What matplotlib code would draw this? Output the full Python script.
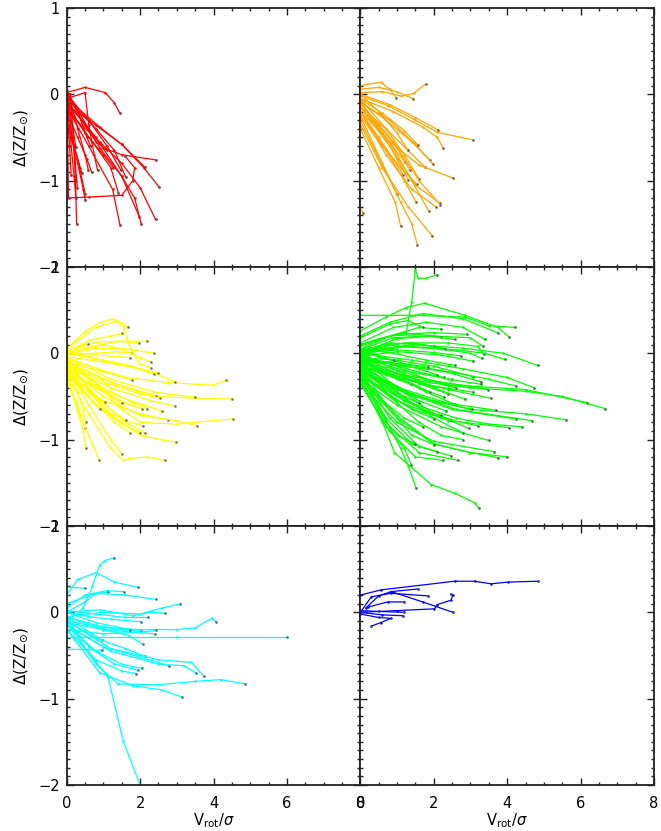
import matplotlib.pyplot as plt
from matplotlib.ticker import MultipleLocator

# tracks: each one is a list of (Vrot/sigma, dZ) points
red_tracks = [
    [(0.0, 0.02), (0.5, 0.08), (1.05, 0.02), (1.3, -0.1), (1.45, -0.22)],
    [(0.0, -0.1), (0.5, -0.35), (1.0, -0.62), (1.5, -0.7), (2.42, -0.76)],
    [(0.0, -0.05), (0.9, -0.38), (1.5, -0.58), (2.1, -0.85), (2.51, -1.07)],
    [(0.0, -0.12), (0.8, -0.36), (1.5, -0.58), (2.12, -0.84)],
    [(0.0, -0.2), (0.9, -0.55), (1.5, -0.8), (2.0, -1.08), (2.42, -1.45)],
    [(0.0, -0.08), (0.8, -0.5), (1.5, -0.95), (1.98, -1.42)],
    [(0.05, 0.0), (0.9, -0.62), (1.5, -0.95), (1.85, -1.2), (2.03, -1.5)],
    [(0.0, -0.15), (0.6, -0.6), (1.25, -1.1), (1.45, -1.51)],
    [(0.1, 0.0), (0.18, -0.5), (0.24, -1.0), (0.27, -1.5)],
    [(0.0, -0.05), (0.03, -0.6), (0.05, -1.2), (0.6, -1.19), (1.5, -1.17),
     (1.8, -1.0), (1.85, -0.85), (1.6, -0.72)],
    [(0.0, -0.1), (0.5, -0.45), (1.0, -0.7), (1.27, -0.85)],
    [(0.0, -0.05), (0.5, 0.02), (0.6, -0.35), (0.75, -0.7), (0.84, -0.88)],
    [(0.0, -0.2), (0.3, -0.5), (0.55, -0.75), (0.68, -0.9)],
    [(0.05, 0.0), (0.3, -0.4), (0.5, -0.7), (0.59, -0.88)],
    [(0.0, -0.3), (0.2, -0.6), (0.41, -0.91)],
    [(0.0, -0.1), (0.2, -0.6), (0.29, -1.09)],
    [(0.0, -0.2), (0.08, -0.6), (0.12, -0.93)],
    [(0.0, 0.0), (0.6, -0.3), (1.1, -0.6), (1.48, -0.88)],
    [(0.0, -0.05), (0.8, -0.4), (1.3, -0.65), (1.61, -0.96)],
    [(0.0, -0.15), (0.7, -0.55), (1.2, -0.85), (1.41, -1.14)],
    [(0.0, 0.0), (0.15, -0.35), (0.25, -0.61)],
    [(0.0, -0.3), (0.3, -0.8), (0.45, -1.1), (0.5, -1.22)],
    [(0.0, 0.05), (0.4, -0.3), (0.8, -0.55), (1.1, -0.65)],
    [(0.0, -0.1), (0.15, -0.5), (0.35, -0.85), (0.5, -1.15)],
    [(0.0, -0.02), (0.3, -0.2), (0.55, -0.5), (0.65, -0.6)],
    [(0.0, -0.05), (0.1, -0.5), (0.2, -0.95), (0.25, -1.2)],
]

orange_tracks = [
    [(0.0, 0.1), (0.55, 0.14), (0.8, 0.06), (0.98, -0.04)],
    [(0.0, 0.06), (0.5, 0.08), (1.0, 0.03), (1.43, -0.05)],
    [(0.0, 0.02), (0.6, 0.03), (1.1, -0.02), (1.45, 0.01), (1.78, 0.12)],
    [(0.0, -0.02), (0.75, -0.13), (1.5, -0.3), (2.1, -0.44), (3.08, -0.53)],
    [(0.0, 0.0), (0.8, -0.12), (1.5, -0.27), (2.11, -0.41)],
    [(0.0, -0.05), (0.9, -0.2), (1.7, -0.38), (2.1, -0.5), (2.25, -0.62)],
    [(0.0, -0.08), (0.7, -0.3), (1.4, -0.55), (1.89, -0.76)],
    [(0.0, -0.1), (0.8, -0.3), (1.5, -0.58), (1.98, -0.81)],
    [(0.0, -0.15), (0.7, -0.4), (1.3, -0.65), (1.75, -0.84)],
    [(0.0, -0.2), (0.8, -0.55), (1.6, -0.82), (2.52, -0.97)],
    [(0.0, -0.05), (0.6, -0.22), (1.2, -0.42), (1.57, -0.59)],
    [(0.0, -0.15), (0.5, -0.4), (0.9, -0.62), (1.21, -0.78)],
    [(0.0, -0.2), (0.5, -0.5), (0.9, -0.75), (1.16, -0.93)],
    [(0.0, -0.1), (0.6, -0.45), (1.0, -0.75), (1.31, -0.99)],
    [(0.0, -0.05), (0.7, -0.4), (1.2, -0.7), (1.6, -0.98)],
    [(0.0, -0.25), (0.6, -0.6), (1.1, -0.85), (1.54, -1.04)],
    [(0.0, -0.3), (0.4, -0.65), (0.75, -0.95), (1.0, -1.16)],
    [(0.0, -0.2), (0.7, -0.65), (1.2, -1.0), (1.52, -1.25)],
    [(0.0, -0.1), (0.8, -0.55), (1.4, -1.0), (1.86, -1.35)],
    [(0.0, -0.15), (0.8, -0.6), (1.5, -1.05), (2.16, -1.26)],
    [(0.0, -0.1), (0.9, -0.55), (1.6, -1.0), (2.18, -1.28)],
    [(0.0, -0.2), (0.7, -0.7), (1.4, -1.1), (2.05, -1.3)],
    [(0.0, -0.4), (0.5, -0.85), (0.95, -1.25), (1.1, -1.53)],
    [(0.0, -0.35), (0.6, -0.85), (1.3, -1.3), (1.96, -1.64)],
    [(0.0, -0.25), (0.6, -0.8), (1.1, -1.25), (1.4, -1.5), (1.55, -1.74)],
    [(0.0, -1.33), (0.07, -1.37)],
    [(0.0, 0.0), (0.5, -0.2), (1.0, -0.45), (1.3, -0.65)],
    [(0.0, -0.1), (0.5, -0.35), (1.0, -0.62), (1.35, -0.88)],
]

yellow_tracks = [
    [(0.0, 0.05), (0.5, 0.25), (0.91, 0.36), (1.27, 0.40), (1.5, 0.35), (1.68, 0.30)],
    [(0.0, 0.0), (0.6, 0.15), (1.2, 0.2), (1.52, 0.23)],
    [(0.0, 0.02), (0.8, 0.13), (1.5, 0.14), (2.2, 0.14)],
    [(0.0, 0.0), (0.7, 0.08), (1.4, 0.14), (1.97, 0.12)],
    [(0.0, 0.02), (0.3, 0.08), (0.59, 0.11)],
    [(0.0, -0.02), (0.8, 0.06), (1.6, 0.05), (2.39, 0.0)],
    [(0.0, -0.01), (0.8, 0.0), (1.4, 0.02), (1.77, 0.0)],
    [(0.0, -0.02), (0.8, -0.02), (1.72, -0.05)],
    [(0.0, -0.05), (1.0, -0.2), (1.63, -0.28), (2.8, -0.34), (3.99, -0.37), (4.33, -0.31)],
    [(0.0, 0.0), (1.2, -0.1), (2.2, -0.2), (2.96, -0.33)],
    [(0.0, 0.05), (0.8, 0.3), (1.35, 0.37), (1.55, 0.3), (1.75, 0.05), (2.0, -0.12), (2.31, -0.17)],
    [(0.0, 0.02), (1.0, -0.08), (1.8, -0.15), (2.38, -0.24)],
    [(0.0, -0.04), (1.0, -0.1), (2.0, -0.18), (2.49, -0.23)],
    [(0.0, -0.1), (0.9, -0.2), (1.77, -0.31)],
    [(0.0, -0.1), (1.3, -0.35), (2.5, -0.5), (3.5, -0.52), (4.49, -0.53)],
    [(0.0, -0.05), (1.2, -0.3), (2.4, -0.45), (3.49, -0.51)],
    [(0.0, -0.1), (1.0, -0.3), (2.0, -0.45), (2.43, -0.5)],
    [(0.0, -0.12), (1.1, -0.35), (2.0, -0.47), (2.54, -0.52)],
    [(0.0, -0.15), (1.2, -0.4), (2.3, -0.55), (2.95, -0.61)],
    [(0.0, -0.2), (1.1, -0.45), (2.1, -0.6), (2.6, -0.67)],
    [(0.0, -0.2), (0.8, -0.4), (1.6, -0.58), (2.04, -0.64)],
    [(0.0, -0.12), (1.0, -0.4), (1.8, -0.57), (2.2, -0.64)],
    [(0.0, -0.25), (1.0, -0.55), (2.0, -0.7), (2.75, -0.77)],
    [(0.0, -0.05), (0.8, -0.35), (1.5, -0.65), (2.0, -0.8), (3.0, -0.82), (4.52, -0.76)],
    [(0.0, -0.15), (1.0, -0.5), (2.0, -0.72), (3.0, -0.78), (3.56, -0.84)],
    [(0.0, -0.2), (0.9, -0.55), (1.6, -0.78), (2.07, -0.84)],
    [(0.0, -0.1), (0.8, -0.5), (1.6, -0.8), (2.13, -0.92)],
    [(0.0, -0.25), (0.8, -0.6), (1.5, -0.82), (2.01, -0.92)],
    [(0.0, -0.2), (0.7, -0.55), (1.3, -0.8), (1.72, -0.92)],
    [(0.0, -0.15), (0.6, -0.45), (1.2, -0.7), (1.61, -0.77)],
    [(0.0, -0.1), (0.5, -0.35), (0.8, -0.5), (1.04, -0.56)],
    [(0.0, -0.05), (0.7, -0.35), (1.2, -0.5), (1.5, -0.58)],
    [(0.0, -0.2), (0.4, -0.4), (0.7, -0.55), (0.91, -0.64)],
    [(0.0, -0.15), (0.3, -0.45), (0.45, -0.65), (0.52, -0.79)],
    [(0.0, -0.3), (0.25, -0.55), (0.4, -0.72), (0.5, -0.87)],
    [(0.0, -0.2), (0.25, -0.6), (0.45, -0.9), (0.53, -1.1)],
    [(0.0, -0.3), (0.35, -0.7), (0.7, -1.05), (0.89, -1.24)],
    [(0.0, -0.15), (0.6, -0.6), (1.2, -1.0), (1.52, -1.17)],
    [(0.0, -0.25), (0.6, -0.7), (1.2, -1.1), (1.54, -1.24), (1.7, -1.22), (2.2, -1.2), (2.67, -1.24)],
    [(0.0, -0.05), (1.0, -0.65), (2.0, -0.95), (2.6, -1.0), (2.97, -1.03)],
    [(0.0, 0.0), (1.0, 0.1), (1.5, 0.05), (2.0, -0.05), (2.3, -0.1)],
]

green_tracks = [
    [(0.0, 0.1), (0.6, 0.18), (1.25, 0.24), (1.4, 0.6), (1.5, 0.97), (1.57, 0.87), (1.8, 0.87), (2.1, 0.91)],
    [(0.0, 0.44), (1.5, 0.44), (2.84, 0.42), (3.5, 0.32), (4.2, 0.30)],
    [(0.0, 0.26), (0.7, 0.42), (1.25, 0.53), (1.75, 0.58), (2.85, 0.44), (3.75, 0.3), (4.05, 0.19)],
    [(0.0, 0.2), (0.8, 0.36), (1.7, 0.46), (2.8, 0.4), (3.74, 0.24)],
    [(0.0, 0.12), (0.9, 0.3), (1.8, 0.36), (2.8, 0.3), (3.4, 0.16)],
    [(0.0, 0.05), (0.8, 0.2), (1.6, 0.3), (2.2, 0.28)],
    [(0.0, 0.18), (0.8, 0.34), (1.3, 0.38), (1.7, 0.30)],
    [(0.0, 0.0), (1.0, 0.17), (2.0, 0.2), (3.0, 0.18), (3.34, 0.08)],
    [(0.0, 0.02), (1.2, 0.12), (2.4, 0.12), (3.2, 0.08), (3.36, -0.01)],
    [(0.0, -0.02), (1.0, 0.08), (2.2, 0.05), (3.0, 0.0), (3.31, -0.06)],
    [(0.0, 0.0), (1.3, 0.08), (2.6, 0.04), (3.4, 0.0), (3.93, -0.07)],
    [(0.0, 0.02), (1.4, 0.1), (2.8, 0.06), (3.9, 0.0), (4.83, -0.14)],
    [(0.0, -0.04), (1.0, 0.02), (2.2, -0.02), (3.06, -0.09)],
    [(0.0, 0.0), (1.0, 0.04), (2.0, 0.01), (2.73, -0.03)],
    [(0.0, -0.1), (1.1, -0.12), (2.2, -0.2), (3.29, -0.33)],
    [(0.0, -0.05), (1.0, -0.08), (2.0, -0.15), (3.07, -0.27)],
    [(0.0, -0.05), (1.2, -0.15), (2.5, -0.22), (3.5, -0.3), (4.25, -0.38)],
    [(0.0, 0.0), (1.4, -0.08), (2.8, -0.18), (4.0, -0.28), (4.74, -0.40)],
    [(0.0, -0.12), (1.2, -0.25), (2.4, -0.35), (3.47, -0.42)],
    [(0.0, -0.15), (1.2, -0.3), (2.4, -0.42), (3.56, -0.52)],
    [(0.0, -0.14), (1.5, -0.32), (3.0, -0.4), (4.5, -0.44), (5.5, -0.5), (6.67, -0.64)],
    [(0.0, -0.1), (1.5, -0.3), (3.0, -0.38), (4.5, -0.42), (6.17, -0.57)],
    [(0.0, -0.2), (1.5, -0.5), (3.0, -0.65), (4.5, -0.7), (5.6, -0.77)],
    [(0.0, -0.15), (1.3, -0.45), (2.6, -0.65), (4.68, -0.78)],
    [(0.0, -0.18), (1.2, -0.45), (2.5, -0.65), (4.24, -0.76)],
    [(0.0, -0.25), (1.2, -0.55), (2.6, -0.75), (3.5, -0.82), (4.41, -0.85)],
    [(0.0, -0.2), (1.2, -0.55), (2.4, -0.78), (4.04, -0.86)],
    [(0.0, -0.2), (1.0, -0.42), (2.0, -0.55), (3.05, -0.65)],
    [(0.0, -0.3), (1.0, -0.6), (2.2, -0.85), (3.5, -1.01)],
    [(0.0, -0.3), (1.0, -0.75), (2.0, -1.05), (3.0, -1.15), (4.0, -1.2)],
    [(0.0, -0.25), (1.0, -0.72), (2.0, -1.05), (3.0, -1.15), (3.76, -1.21)],
    [(0.0, -0.35), (1.0, -0.8), (2.0, -1.02), (3.65, -1.14)],
    [(0.0, -0.3), (0.8, -0.85), (1.6, -1.15), (2.66, -1.24)],
    [(0.0, -0.2), (0.8, -0.75), (1.6, -1.08), (2.48, -1.19)],
    [(0.0, -0.35), (0.8, -0.9), (1.5, -1.2), (2.25, -1.24)],
    [(0.0, -0.25), (0.7, -0.75), (1.4, -1.05), (2.1, -1.14)],
    [(0.0, -0.15), (0.7, -0.6), (1.4, -0.95), (2.02, -1.06)],
    [(0.0, -0.3), (0.6, -0.8), (1.2, -1.1), (1.39, -1.29)],
    [(0.0, -0.2), (0.6, -0.7), (1.1, -1.1), (1.3, -1.3), (1.52, -1.56)],
    [(0.0, -0.14), (0.93, -1.15), (1.93, -1.52), (2.57, -1.62), (3.11, -1.73), (3.22, -1.79)],
    [(0.0, -0.1), (1.0, -0.45), (2.0, -0.75), (2.79, -0.92)],
    [(0.0, -0.05), (1.0, -0.4), (2.0, -0.7), (2.95, -0.87)],
    [(0.0, -0.08), (0.8, -0.25), (1.6, -0.4), (2.29, -0.51)],
    [(0.0, -0.02), (0.8, -0.2), (1.6, -0.35), (2.38, -0.47)],
    [(0.0, -0.12), (0.8, -0.35), (1.6, -0.55), (2.34, -0.67)],
    [(0.0, -0.22), (0.7, -0.45), (1.4, -0.65), (2.02, -0.76)],
    [(0.0, -0.15), (0.9, -0.45), (1.7, -0.65), (2.48, -0.77)],
    [(0.0, -0.05), (0.9, -0.25), (1.8, -0.45), (2.57, -0.59)],
    [(0.0, 0.0), (1.0, -0.2), (2.0, -0.4), (2.84, -0.53)],
    [(0.0, 0.08), (0.8, 0.2), (1.6, 0.22), (2.19, 0.19)],
    [(0.0, 0.04), (0.9, 0.18), (1.8, 0.2), (2.57, 0.16)],
    [(0.0, -0.05), (0.5, -0.2), (1.0, -0.3), (1.39, -0.36)],
    [(0.0, 0.05), (0.6, -0.05), (1.2, -0.12), (1.84, -0.16)],
    [(0.0, 0.02), (0.5, -0.04), (0.93, -0.08)],
    [(0.0, -0.02), (0.8, -0.12), (1.6, -0.22), (2.28, -0.28)],
    [(0.0, 0.05), (0.9, 0.0), (1.8, -0.08), (2.57, -0.14)],
    [(0.0, -0.1), (1.0, -0.28), (2.0, -0.38), (3.07, -0.45)],
    [(0.0, -0.2), (1.2, -0.42), (2.4, -0.58), (3.7, -0.66)],
    [(0.0, -0.25), (1.0, -0.55), (2.2, -0.75), (3.2, -0.84)],
    [(0.0, -0.08), (0.8, -0.5), (1.6, -0.8), (2.2, -0.95), (2.8, -1.0)],
    [(0.0, 0.1), (1.0, 0.22), (2.0, 0.24), (2.9, 0.22)],
    [(0.0, -0.02), (1.0, -0.15), (1.8, -0.3), (2.4, -0.38), (2.5, -0.3)],
    [(0.0, -0.3), (0.6, -0.55), (1.2, -0.75), (1.7, -0.85)],
    [(0.0, -0.35), (0.5, -0.7), (1.0, -0.95), (1.5, -1.05)],
    [(0.0, 0.0), (0.7, 0.1), (1.4, 0.12), (2.0, 0.08)],
    [(0.0, -0.08), (0.8, -0.1), (1.6, -0.18), (2.1, -0.25)],
    [(0.0, -0.15), (0.7, -0.25), (1.4, -0.35), (1.9, -0.45)],
    [(0.0, -0.1), (0.9, -0.18), (1.8, -0.3), (2.6, -0.4)],
    [(0.0, -0.2), (0.6, -0.35), (1.2, -0.5), (1.6, -0.58)],
    [(0.0, 0.03), (0.8, 0.12), (1.7, 0.1), (2.3, 0.05)],
    [(0.0, -0.25), (0.8, -0.5), (1.6, -0.68), (2.2, -0.72)],
    [(0.0, -0.05), (1.2, -0.2), (2.4, -0.3), (3.3, -0.36)],
]

cyan_tracks = [
    [(0.0, -0.1), (0.45, 0.05), (0.7, 0.3), (0.9, 0.55), (1.05, 0.6), (1.29, 0.63)],
    [(0.0, 0.2), (0.3, 0.38), (0.8, 0.46), (1.3, 0.35), (1.93, 0.29)],
    [(0.0, 0.29), (0.5, 0.28)],
    [(0.0, 0.05), (0.5, 0.2), (1.1, 0.25), (1.56, 0.24)],
    [(0.0, 0.0), (0.5, 0.12), (0.8, 0.22), (1.12, 0.23)],
    [(0.0, 0.1), (0.8, 0.22), (1.6, 0.2), (2.42, 0.15)],
    [(0.0, -0.05), (1.0, 0.0), (2.0, -0.02), (2.6, 0.05), (3.1, 0.10)],
    [(0.0, 0.0), (0.9, 0.03), (1.8, -0.04), (2.3, 0.0), (2.68, -0.01)],
    [(0.0, 0.02), (0.8, -0.02), (1.6, -0.06), (2.22, -0.06)],
    [(0.0, 0.0), (0.6, -0.05), (1.2, -0.08), (2.02, -0.11)],
    [(0.0, -0.1), (1.0, -0.18), (2.0, -0.2), (3.0, -0.2), (3.5, -0.18), (3.95, -0.07), (4.08, -0.11)],
    [(0.0, -0.05), (0.8, -0.15), (1.5, -0.2), (2.02, -0.22)],
    [(0.0, -0.12), (1.0, -0.2), (2.41, -0.25)],
    [(0.0, 0.0), (0.8, -0.12), (1.72, -0.2)],
    [(0.0, -0.29), (3.0, -0.29), (5.99, -0.29)],
    [(0.0, -0.05), (1.0, -0.2), (1.7, -0.27), (2.07, -0.37)],
    [(0.0, -0.05), (0.5, -0.2), (0.95, -0.32)],
    [(0.0, -0.43), (0.5, -0.43), (0.95, -0.44)],
    [(0.0, -0.1), (0.8, -0.3), (1.6, -0.42), (2.13, -0.51)],
    [(0.0, -0.15), (1.0, -0.4), (2.0, -0.52), (2.8, -0.62)],
    [(0.0, -0.15), (1.2, -0.45), (2.5, -0.6), (3.2, -0.62), (3.51, -0.70)],
    [(0.0, -0.1), (1.2, -0.42), (2.5, -0.55), (3.4, -0.58), (3.74, -0.74)],
    [(0.0, -0.12), (0.8, -0.6), (1.4, -0.83), (2.5, -0.84), (3.5, -0.8), (4.2, -0.78), (4.87, -0.83)],
    [(0.0, -0.2), (0.9, -0.7), (1.8, -0.85), (2.6, -0.9), (3.13, -0.98)],
    [(0.0, -0.15), (0.8, -0.45), (1.5, -0.6), (2.04, -0.65)],
    [(0.0, -0.1), (0.6, -0.4), (1.3, -0.6), (1.93, -0.67)],
    [(0.0, -0.2), (0.8, -0.55), (1.5, -0.68), (1.89, -0.71)],
    [(0.0, -0.05), (0.54, -0.44), (1.13, -0.75), (1.54, -1.49), (2.0, -2.0)],
    [(0.0, -0.2), (1.0, -0.25), (2.0, -0.23), (2.42, -0.21)],
]

blue_tracks = [
    [(0.0, 0.2), (0.57, 0.26), (2.57, 0.36), (3.11, 0.36), (3.56, 0.33), (4.02, 0.35), (4.85, 0.36)],
    [(0.15, 0.05), (0.5, 0.19), (0.84, 0.24), (1.57, 0.27)],
    [(0.84, 0.24), (1.7, 0.12), (2.52, 0.0)],
    [(0.0, 0.0), (1.0, 0.02), (2.02, 0.04), (2.1, 0.09), (2.47, 0.14), (2.52, 0.2), (2.46, 0.21)],
    [(0.0, 0.0), (0.3, 0.18), (0.84, 0.22), (1.84, 0.19)],
    [(0.2, 0.06), (0.75, 0.12), (1.2, 0.12)],
    [(0.0, 0.0), (0.6, -0.03), (1.16, -0.04)],
    [(0.0, -0.02), (0.5, -0.06), (0.84, -0.07), (0.55, -0.12), (0.3, -0.16)],
    [(0.0, 0.02), (0.5, 0.01), (1.2, 0.0)],
]

panel_tracks = [red_tracks, orange_tracks, yellow_tracks,
                green_tracks, cyan_tracks, blue_tracks]
panel_colors = ['#ff0000', '#ffa500', '#ffff00', '#00ff00', '#00ffff', '#0000ff']

plt.rcParams['font.family'] = 'DejaVu Sans'

fig, axes = plt.subplots(3, 2, figsize=(6.61, 8.31), dpi=100,
                         gridspec_kw=dict(left=0.1009, right=0.9894, top=0.9904,
                                          bottom=0.0554, hspace=0, wspace=0))

for i, ax in enumerate(axes.flat):
    row, col = divmod(i, 2)
    c = panel_colors[i]
    for tr in panel_tracks[i]:
        xs = [p[0] for p in tr]
        ys = [p[1] for p in tr]
        ax.plot(xs, ys, color=c, lw=0.9, marker='.', ms=1.5)
        ax.plot(xs[-1], ys[-1], 's', ms=1.6, color='#555555', mec='none')

    ax.set_xlim(0, 8)
    ax.set_ylim(-2, 1)
    ax.xaxis.set_major_locator(MultipleLocator(2))
    ax.xaxis.set_minor_locator(MultipleLocator(0.5))
    ax.yaxis.set_major_locator(MultipleLocator(1))
    ax.yaxis.set_minor_locator(MultipleLocator(0.1))
    ax.tick_params(which='both', direction='in', top=True, right=True,
                   labelsize=10.5, width=1.0, color='#222222')
    ax.tick_params(which='major', length=5, pad=5)
    ax.tick_params(which='minor', length=2.5)
    ax.tick_params(axis='x', which='major', pad=8)
    ax.tick_params(labelleft=(col == 0), labelbottom=(row == 2))
    for s in ax.spines.values():
        s.set_linewidth(1.3)
        s.set_color('#222222')

    if col == 0:
        ax.set_ylabel(r'$\Delta(\mathrm{Z}/\mathrm{Z}_{\odot})$', fontsize=11)
        ax.yaxis.set_label_coords(-0.125, 0.5)
    if row == 2:
        ax.set_xlabel(r'V$_{\rm rot}$/$\sigma$', fontsize=10.5)
        ax.xaxis.set_label_coords(0.5, -0.1)

plt.savefig('out.png', dpi=100)
plt.close()
